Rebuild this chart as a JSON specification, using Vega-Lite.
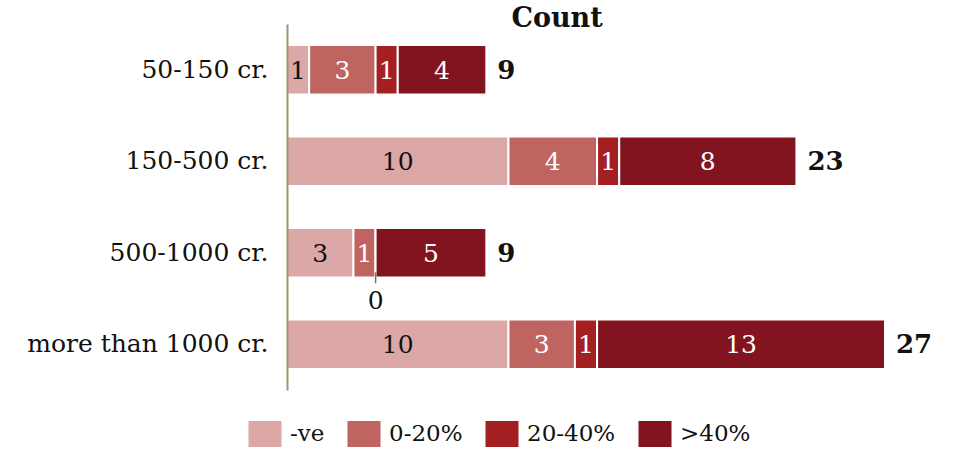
{
  "$schema": "https://vega.github.io/schema/vega-lite/v6.json",
  "width": 598,
  "height": 366,
  "autosize": {"type": "none"},
  "padding": {"left": 287, "top": 24, "right": 68, "bottom": 60},
  "background": "white",
  "config": {
    "view": {"stroke": null},
    "font": "DejaVu Serif",
    "text": {"font": "DejaVu Serif"}
  },
  "title": {
    "text": "Count",
    "font": "DejaVu Serif",
    "fontSize": 27,
    "fontWeight": "bold",
    "color": "#111",
    "anchor": "middle",
    "frame": "group",
    "dx": -29,
    "offset": -9
  },
  "data": {
    "values": [
      {"size": "50-150 cr.", "band": "-ve", "ord": 0, "count": 1},
      {"size": "50-150 cr.", "band": "0-20%", "ord": 1, "count": 3},
      {"size": "50-150 cr.", "band": "20-40%", "ord": 2, "count": 1},
      {"size": "50-150 cr.", "band": ">40%", "ord": 3, "count": 4},
      {"size": "150-500 cr.", "band": "-ve", "ord": 0, "count": 10},
      {"size": "150-500 cr.", "band": "0-20%", "ord": 1, "count": 4},
      {"size": "150-500 cr.", "band": "20-40%", "ord": 2, "count": 1},
      {"size": "150-500 cr.", "band": ">40%", "ord": 3, "count": 8},
      {"size": "500-1000 cr.", "band": "-ve", "ord": 0, "count": 3},
      {"size": "500-1000 cr.", "band": "0-20%", "ord": 1, "count": 1},
      {"size": "500-1000 cr.", "band": "20-40%", "ord": 2, "count": 0},
      {"size": "500-1000 cr.", "band": ">40%", "ord": 3, "count": 5},
      {"size": "more than 1000 cr.", "band": "-ve", "ord": 0, "count": 10},
      {"size": "more than 1000 cr.", "band": "0-20%", "ord": 1, "count": 3},
      {"size": "more than 1000 cr.", "band": "20-40%", "ord": 2, "count": 1},
      {"size": "more than 1000 cr.", "band": ">40%", "ord": 3, "count": 13}
    ]
  },
  "transform": [
    {"stack": "count", "groupby": ["size"], "sort": [{"field": "ord", "order": "ascending"}], "as": ["x0", "x1"]},
    {"calculate": "(datum.x0 + datum.x1) / 2", "as": "xm"}
  ],
  "encoding": {
    "y": {
      "field": "size",
      "type": "nominal",
      "sort": ["50-150 cr.", "150-500 cr.", "500-1000 cr.", "more than 1000 cr."],
      "scale": {"paddingInner": 0.46, "paddingOuter": 0.23},
      "axis": {
        "title": null,
        "ticks": false,
        "zindex": 1,
        "labelLimit": 0,
        "labelFont": "DejaVu Serif",
        "labelFontSize": 25,
        "labelColor": "#111",
        "labelPadding": 19,
        "domainColor": "#a39470",
        "domainWidth": 2
      }
    }
  },
  "layer": [
    {
      "mark": {"type": "bar", "stroke": "white", "strokeWidth": 2},
      "encoding": {
        "x": {"field": "x0", "type": "quantitative", "scale": {"domain": [0, 27], "nice": false, "zero": true}, "axis": null},
        "x2": {"field": "x1"},
        "color": {
          "field": "band",
          "type": "nominal",
          "scale": {
            "domain": ["-ve", "0-20%", "20-40%", ">40%"],
            "range": ["#dca8a7", "#c06462", "#a31f22", "#82141f"]
          },
          "legend": {
            "title": null,
            "orient": "none",
            "direction": "horizontal",
            "legendX": -35,
            "legendY": 397,
            "symbolType": "M-1.27,-1L1.27,-1L1.27,1L-1.27,1Z",
            "symbolSize": 676,
            "symbolStrokeWidth": 0,
            "symbolOpacity": 1,
            "labelFont": "DejaVu Serif",
            "labelFontSize": 23,
            "labelColor": "#111",
            "labelOffset": 12,
            "columnPadding": 22,
            "padding": 0
          }
        }
      }
    },
    {
      "transform": [{"filter": "datum.count > 0"}],
      "mark": {"type": "text", "fontSize": 25, "baseline": "middle", "align": "center", "dy": 1},
      "encoding": {
        "x": {"field": "xm", "type": "quantitative"},
        "text": {"field": "count", "type": "quantitative"},
        "color": {"condition": {"test": "datum.band === '-ve'", "value": "#111"}, "value": "white"}
      }
    },
    {
      "transform": [{"filter": "datum.count === 0"}],
      "mark": {"type": "tick", "orient": "vertical", "size": 11, "thickness": 1.5, "color": "#333", "yOffset": 25},
      "encoding": {
        "x": {"field": "x1", "type": "quantitative"}
      }
    },
    {
      "transform": [{"filter": "datum.count === 0"}],
      "mark": {"type": "text", "fontSize": 25, "baseline": "middle", "align": "center", "color": "#111", "yOffset": 48},
      "encoding": {
        "x": {"field": "x1", "type": "quantitative"},
        "text": {"field": "count", "type": "quantitative"}
      }
    },
    {
      "mark": {"type": "text", "fontSize": 26, "fontWeight": "bold", "baseline": "middle", "align": "left", "dx": 11, "color": "#111", "dy": 1},
      "encoding": {
        "x": {"aggregate": "sum", "field": "count", "type": "quantitative"},
        "text": {"aggregate": "sum", "field": "count", "type": "quantitative"}
      }
    }
  ]
}
